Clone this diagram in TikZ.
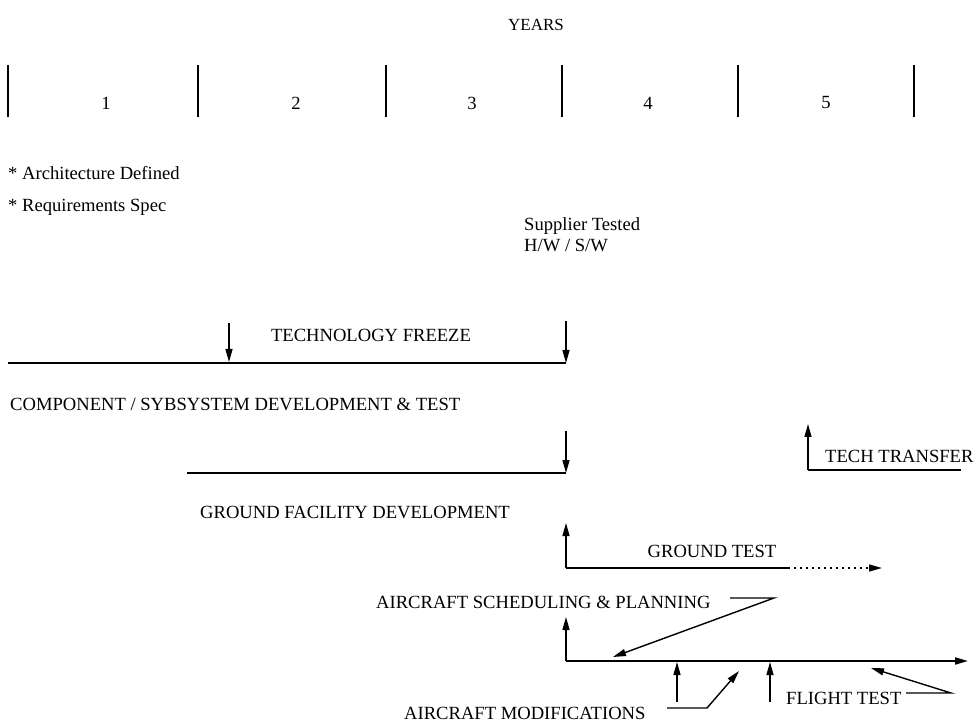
\documentclass[tikz,border=0pt]{standalone}
\usepackage{fontspec}
\setmainfont{Liberation Serif}
\usetikzlibrary{arrows.meta}
\tikzset{
  lbl/.style={inner sep=0pt, font=\fontsize{18.6}{19}\selectfont},
  tickline/.style={line width=1.6pt},
  bar/.style={line width=1.8pt},
  tip/.style={-{Triangle[length=13pt,width=7pt]}},
  arr/.style={line width=1.4pt, tip},
  lead/.style={line width=1.4pt, tip}
}
\begin{document}
\begin{tikzpicture}[x=1pt,y=-1pt]
\useasboundingbox (0,0) rectangle (978,727);
% header
\node[inner sep=0pt, font=\fontsize{17}{19}\selectfont] (years) at (536,25) {YEARS};
\foreach \x in {8,198,386,562,738,914} \draw[tickline] (\x,65) -- (\x,117);
\node[lbl] (y1) at (106,103) {1};
\node[lbl] (y2) at (296,103) {2};
\node[lbl] (y3) at (472,103) {3};
\node[lbl] (y4) at (648,103) {4};
\node[lbl] (y5) at (826,103) {5};
% notes
\node[lbl,anchor=west] (arch) at (8,173) {* Architecture Defined};
\node[lbl,anchor=west] (req) at (8,207) {* Requirements Spec};
\node[lbl,anchor=west] (sup) at (524,226) {Supplier Tested};
\node[lbl,anchor=west] (hwsw) at (524,245) {H/W / S/W};
% technology freeze
\coordinate (tfL) at (8,363);
\coordinate (tfR) at (566,363);
\coordinate (tfA) at (229,323);
\coordinate (tfAe) at (229,362);
\coordinate (tfB) at (566,321);
\draw[bar] (tfL) -- (tfR);
\draw[arr] (tfA) -- (tfAe);
\draw[arr] (tfB) -- (tfR);
\node[lbl] (tf) at (371,335) {TECHNOLOGY FREEZE};
\node[lbl,anchor=west] (comp) at (10,404) {COMPONENT / SYBSYSTEM DEVELOPMENT \& TEST};
% ground facility
\coordinate (gfL) at (187,473);
\coordinate (gfR) at (566,473);
\coordinate (gfA) at (566,431);
\draw[bar] (gfL) -- (gfR);
\draw[arr] (gfA) -- (gfR);
\node[lbl,anchor=west] (gf) at (200,512) {GROUND FACILITY DEVELOPMENT};
% tech transfer
\coordinate (ttO) at (808,470);
\coordinate (ttU) at (808,424);
\coordinate (ttR) at (961,470);
\draw[arr] (ttO) -- (ttU);
\draw[bar] (ttO) -- (ttR);
\node[lbl,anchor=west] (tt) at (825,456) {TECH TRANSFER};
% ground test
\coordinate (gtO) at (566,568);
\coordinate (gtU) at (566,523);
\coordinate (gtM) at (788,568);
\coordinate (gtE) at (882,568);
\draw[arr] (gtO) -- (gtU);
\draw[bar] (gtO) -- (gtM);
\draw[line width=1.4pt, dash pattern=on 2pt off 4pt, tip] (gtM) -- (gtE);
\node[lbl] (gt) at (712,551) {GROUND TEST};
% aircraft scheduling & flight test
\node[lbl,anchor=west] (asp) at (376,602) {AIRCRAFT SCHEDULING \& PLANNING};
\coordinate (aspL1) at (730,598);
\coordinate (aspL2) at (774,598);
\coordinate (aspE) at (613,657);
\draw[lead] (aspL1) -- (aspL2) -- (aspE);
\coordinate (ftO) at (566,661);
\coordinate (ftU) at (566,617);
\coordinate (ftE) at (968,661);
\draw[arr] (ftO) -- (ftU);
\draw[bar,tip] (ftO) -- (ftE);
\coordinate (m1b) at (677,702);
\coordinate (m1t) at (677,662);
\coordinate (m2b) at (770,702);
\coordinate (m2t) at (770,662);
\draw[arr] (m1b) -- (m1t);
\draw[arr] (m2b) -- (m2t);
\node[lbl,anchor=west] (am) at (404,713) {AIRCRAFT MODIFICATIONS};
\coordinate (amL1) at (667,708);
\coordinate (amL2) at (707,708);
\coordinate (amE) at (739,671);
\draw[lead] (amL1) -- (amL2) -- (amE);
\node[lbl,anchor=west] (ft) at (786,698) {FLIGHT TEST};
\coordinate (ftL1) at (906,693);
\coordinate (ftL2) at (951,693);
\coordinate (ftA) at (871,668);
\draw[lead] (ftL1) -- (ftL2) -- (ftA);
\end{tikzpicture}
\end{document}
